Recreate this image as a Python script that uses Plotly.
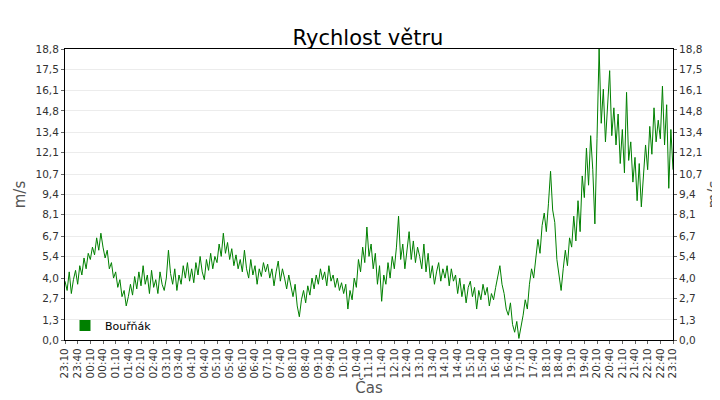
import plotly.graph_objects as go
import pandas as pd

start = "2024-01-01 23:10"
speed_rows = [
    [3.8,3.2,4.4,3.0,3.9,4.5,3.6,4.8,4.2,5.3,4.6,5.6],
    [5.2,6.0,5.5,6.6,5.8,6.9,6.0,5.3,5.8,4.6,5.0,4.0],
    [4.4,3.4,3.9,2.8,3.2,2.2,2.8,3.6,2.9,4.1,3.3,4.4],
    [3.5,4.8,3.6,4.2,3.0,4.5,3.4,3.9,3.0,4.4,3.6,3.2],
    [4.0,5.8,4.3,3.6,4.6,3.2,4.2,3.6,4.8,4.0,5.0,3.8],
    [4.6,3.7,5.0,4.2,5.4,4.4,3.9,5.2,4.5,5.6,4.6,5.4],
    [5.0,6.2,5.4,6.9,5.6,6.3,5.2,5.9,4.8,5.5,4.6,5.2],
    [4.4,5.8,4.6,4.0,5.2,4.2,4.8,3.6,4.6,4.1,5.0,4.4],
    [4.9,4.0,4.6,3.5,4.4,5.1,3.8,4.6,4.0,3.3,4.2,3.4],
    [2.8,3.6,2.2,1.5,2.6,3.2,2.4,3.5,2.9,4.0,3.3,4.2],
    [3.6,4.6,3.9,4.4,3.5,4.8,3.8,4.2,3.4,4.0,3.2,3.7],
    [3.0,3.6,2.0,3.2,2.6,4.0,3.4,5.2,4.4,6.0,5.0,7.3],
    [5.4,6.2,4.6,5.6,3.6,4.8,2.5,4.2,3.6,5.0,4.0,5.4],
    [4.6,6.0,8.0,5.2,6.2,4.6,5.8,7.0,5.2,6.4,5.0,6.0],
    [5.4,4.6,6.2,4.4,5.6,4.0,4.8,3.6,4.4,5.0,3.8,4.6],
    [4.0,4.8,3.5,4.6,3.8,4.2,3.0,4.0,2.8,3.6,2.4,3.4],
    [3.8,2.8,3.4,2.0,3.2,2.6,3.6,2.9,3.4,2.2,3.0,2.6],
    [3.4,4.2,4.8,3.6,3.0,2.0,1.6,2.4,1.0,0.5,1.2,0.1],
    [0.8,1.6,2.6,2.0,3.6,4.6,4.0,5.4,6.5,5.6,7.4,8.2],
    [7.0,8.8,10.9,8.4,7.6,5.2,4.2,3.2,4.6,5.8,4.8,6.6],
    [6.0,8.0,6.4,9.0,7.0,10.6,9.2,12.4,10.0,13.2,11.0,7.5],
    [13.0,18.8,14.0,16.2,12.8,15.4,17.4,13.2,15.0,12.6,14.6,11.4],
    [13.6,10.8,16.0,11.6,12.8,10.2,11.8,9.0,11.4,8.6,10.6,12.6],
    [11.0,13.8,12.0,15.0,12.8,14.2,13.0,16.4,12.6,15.2,9.8,13.6],
]
final_value = [11.0]
speeds = [v for r in speed_rows for v in r] + final_value
times = pd.date_range(start, periods=len(speeds), freq="5min")

y_ticks = [0.0,1.3,2.7,4.0,5.4,6.7,8.1,9.4,10.7,12.1,13.4,14.8,16.1,17.5,18.8]
y_labels = [f"{v:.1f}".replace(".", ",") for v in y_ticks]
x_ticks = pd.date_range(start, periods=49, freq="30min")
x_labels = [t.strftime("%H:%M") for t in x_ticks]

green = "#008000"
fig = go.Figure()
fig.add_trace(go.Scatter(x=times, y=speeds, mode="lines", line=dict(color=green, width=1),
                         showlegend=False, name="Bouřňák"))
fig.add_trace(go.Scatter(x=times, y=speeds, mode="lines", line=dict(color="rgba(0,0,0,0)", width=0),
                         showlegend=False, yaxis="y2", hoverinfo="skip"))
fig.add_trace(go.Scatter(x=[None], y=[None], mode="markers", name="Bouřňák",
                         marker=dict(symbol="square", size=11, color=green)))

axfont = dict(family="DejaVu Sans", size=10.5, color="#333")
ttl = dict(family="DejaVu Sans", size=15, color="#555")
fig.update_layout(
    width=720, height=400, paper_bgcolor="white", plot_bgcolor="white",
    margin=dict(l=57, r=55, t=41, b=68, autoexpand=False),
    title=dict(text="Rychlost větru", x=0.5, y=0.945, xanchor="center",
               font=dict(family="DejaVu Sans", size=21, color="black")),
    font=axfont,
    xaxis=dict(tickvals=list(x_ticks), ticktext=x_labels, tickangle=-90, range=[times[0], times[-1]],
               automargin=False,
               showgrid=False, showline=True, linecolor="black", mirror=True, ticks="outside",
               ticklen=3, tickcolor="#666", tickfont=axfont,
               title=dict(text="Čas", font=ttl, standoff=2)),
    yaxis=dict(range=[0, 18.8], tickvals=y_ticks, ticktext=y_labels, showgrid=True, gridcolor="#ececec",
               automargin=False,
               showline=True, linecolor="black", mirror=True, ticks="outside", ticklen=3, tickcolor="#666",
               zeroline=False, title=dict(text="m/s", font=ttl, standoff=6)),
    yaxis2=dict(range=[0, 18.8], tickvals=y_ticks, ticktext=y_labels, overlaying="y", side="right",
                automargin=False,
                showgrid=False, ticks="outside", ticklen=3, tickcolor="#666", zeroline=False,
                title=dict(text="m/s", font=ttl, standoff=6)),
    legend=dict(x=0.0, y=0.0, xanchor="left", yanchor="bottom", bgcolor="rgba(255,255,255,0)",
                itemwidth=30, font=dict(size=11, color="black")),
)
fig.write_html("out.html")
